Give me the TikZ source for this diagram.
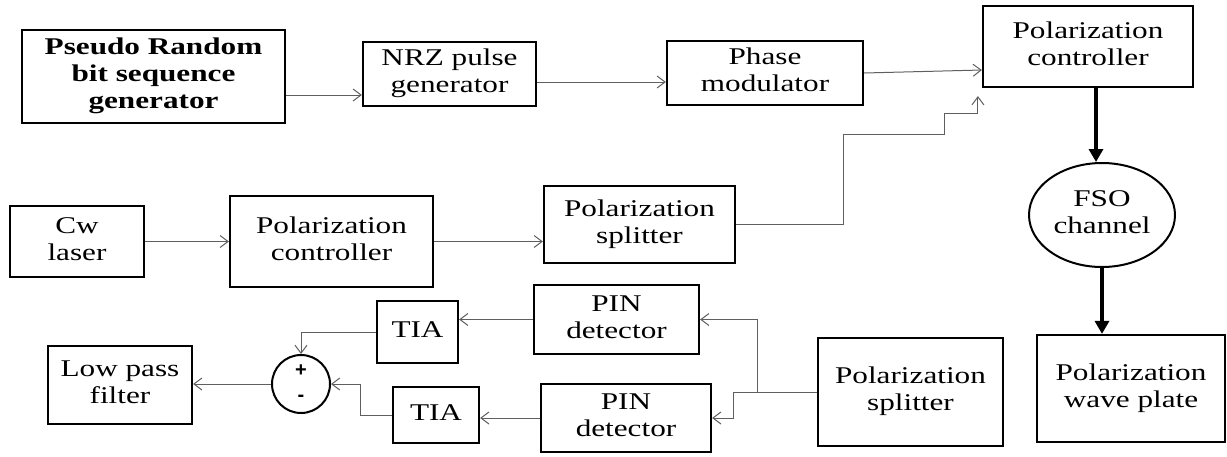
\documentclass[tikz,border=0pt]{standalone}
\usepackage{fontspec}
\usepackage{graphicx}
\setmainfont{Liberation Serif}
\newfontfamily\plusfont{Liberation Sans}
\usetikzlibrary{arrows.meta,shapes.geometric,calc}
\definecolor{conngray}{RGB}{95,95,95}
\newcommand{\sx}[1]{\scalebox{1.3}[1]{\begin{tabular}{@{}c@{}}#1\end{tabular}}}
\tikzset{
  box/.style={draw, line width=2.2pt, inner sep=0pt, font=\fontsize{24}{27}\selectfont},
  conn/.style={draw=conngray, line width=1pt, -{Straight Barb[length=8pt,width=12pt,line width=1pt]}},
  bigarrow/.style={draw=black, line width=4pt, -{Triangle[length=13pt,width=14pt]}},
}
\begin{document}
\begin{tikzpicture}[x=1pt,y=-1pt]
\useasboundingbox (0,0) rectangle (1227,456);
% nodes
\node[box, minimum width=263pt, minimum height=93pt] (prbs) at (153.5,76.5) {\sx{\bfseries Pseudo Random\\\bfseries bit sequence\\\bfseries generator}};
\node[box, minimum width=173pt, minimum height=64pt] (nrz) at (449.5,74) {\sx{NRZ pulse\\generator}};
\node[box, minimum width=196pt, minimum height=64pt] (phase) at (765,73) {\sx{Phase\\modulator}};
\node[box, minimum width=210pt, minimum height=81pt] (pc1) at (1088,46.5) {\sx{Polarization\\controller}};
\node[box, ellipse, line width=2pt, minimum width=146pt, minimum height=104pt] (fso) at (1102,215) {\sx{FSO\\channel}};
\node[box, minimum width=188pt, minimum height=107pt] (wave) at (1131,388.5) {\sx{Polarization\\wave plate}};
\node[box, minimum width=134pt, minimum height=71pt] (cw) at (77,241.5) {\sx{Cw\\laser}};
\node[box, minimum width=203pt, minimum height=91pt] (pc2) at (331.5,241.5) {\sx{Polarization\\controller}};
\node[box, minimum width=191pt, minimum height=77pt] (ps1) at (639.5,224.5) {\sx{Polarization\\splitter}};
\node[box, minimum width=185pt, minimum height=108pt] (ps2) at (910.5,392) {\sx{Polarization\\splitter}};
\node[box, minimum width=165pt, minimum height=69pt] (pin1) at (616.5,319.5) {\sx{PIN\\detector}};
\node[box, minimum width=170pt, minimum height=68pt] (pin2) at (626,418) {\sx{PIN\\detector}};
\node[box, minimum width=81pt, minimum height=62pt] (tia1) at (417.5,332) {\sx{TIA}};
\node[box, minimum width=86pt, minimum height=56pt] (tia2) at (436,415) {\sx{TIA}};
\node[box, circle, line width=2pt, minimum size=58pt] (sum) at (301,384) {};
\node[font=\plusfont\bfseries\fontsize{20}{20}\selectfont, inner sep=0pt] (plus) at (301,371) {+};
\node[font=\plusfont\bfseries\fontsize{20}{20}\selectfont, inner sep=0pt] (minus) at (301,398) {-};
\node[box, minimum width=144pt, minimum height=78pt] (lpf) at (120,385) {\sx{Low pass\\filter}};
% connectors
\coordinate (tip) at ([xshift=-4pt,yshift=-8pt]pc1.south west);
\draw[conn] ([yshift=-18.5pt]prbs.east) -- ([yshift=-21pt]nrz.west);
\draw[conn] ([yshift=-8pt]nrz.east) -- ([yshift=-9pt]phase.west);
\draw[conn] (phase.east) -- ([yshift=-23.5pt]pc1.west);
\draw[conn] (ps1.east) -- ++(107,0) -- ++(0,-90) -- ++(101,0) -- ++(0,-21) -| (tip);
\draw[conn] (cw.east) -- (pc2.west);
\draw[conn] (pc2.east) -- (pc2.east -| ps1.west);
\draw[bigarrow] ([xshift=-6pt]fso.north |- pc1.south) -- ([xshift=-6pt]fso.north);
\draw[bigarrow] (fso.south) -- (fso.south |- wave.north);
\draw[conn] (ps2.west) -- ++(-59,0) |- (pin1.east);
\draw[conn] (ps2.west) -- ++(-83,0) |- (pin2.east);
\draw[conn] (pin1.west) -- (tia1.east |- pin1.west);
\draw[conn] (pin2.west) -- (tia2.east |- pin2.west);
\draw[conn] (tia1.west) -| (sum.north);
\draw[conn] (tia2.west) -- ++(-31,0) |- (sum.east);
\draw[conn] (sum.west) -- (lpf.east |- sum.west);
\end{tikzpicture}
\end{document}
